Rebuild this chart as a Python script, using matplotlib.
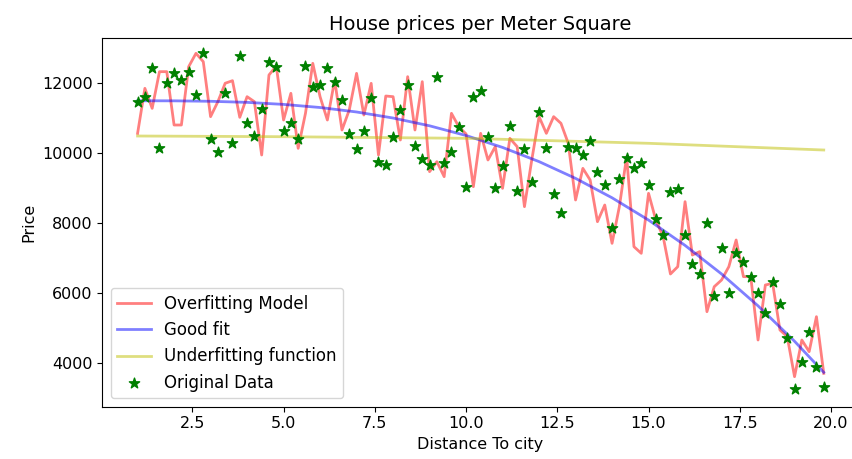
import matplotlib.pyplot as plt

# distance to city (x) and observed prices
distance = [round(1.0 + 0.2 * i, 1) for i in range(95)]
price = [11473, 11616, 12430, 10139, 12000, 12286, 12095, 12333, 11665, 12876,
         10397, 10041, 11714, 10300, 12782, 10872, 10491, 11264, 12618, 12475,
         10634, 10872, 10397, 12495, 11903, 11951, 12430, 12046, 11522, 10540,
         10110, 10643, 11570, 9755, 9661, 10454, 11236, 11951, 10205, 9824,
         9661, 12190, 9709, 10041, 10740, 9040, 11599, 11788, 10454, 8993,
         9632, 10777, 8925, 10110, 9183, 11170, 10139, 8830, 8295, 10168,
         10139, 9947, 10357, 9469, 9088, 7848, 9251, 9853, 9566, 9709,
         9088, 8106, 7656, 8897, 8965, 7656, 6826, 6540, 8009, 5918,
         7276, 6004, 7133, 6892, 6463, 6004, 5432, 6319, 5681, 4698,
         3239, 4029, 4888, 3868, 3296]

# overfitting model, same x as the data
overfit = [10567, 11856, 11283, 12333, 12333, 10806, 10806, 12476, 12858, 12619,
           11045, 11474, 12001, 12075, 11026, 11617, 11474, 9947, 12238, 12495,
           10949, 11713, 10138, 11140, 12572, 11617, 10949, 12094, 10663, 11236,
           12285, 11092, 11999, 9947, 11636, 11617, 10377, 12190, 10663, 12047,
           9470, 9756, 9327, 11140, 10758, 10550, 9040, 10567, 9804, 10186,
           8993, 10424, 10186, 8468, 9804, 11045, 10567, 11045, 10854, 10281,
           8659, 9565, 9231, 8038, 8515, 7418, 8468, 9899, 7322, 7132,
           8850, 8086, 7609, 6540, 6750, 8611, 7084, 7180, 5461, 6177,
           6368, 6750, 7514, 6464, 6464, 4650, 6225, 6273, 4937, 4746,
           3600, 4650, 4316, 5318, 3696]

# good fit curve read at whole distances
good_x = [1, 2, 3, 4, 5, 6, 7, 8, 9, 10, 11, 12, 13, 14, 15, 16, 17, 18, 19, 19.8]
good_y = [11500, 11498, 11485, 11454, 11396, 11307, 11179, 11006, 10783, 10505,
          10164, 9758, 9278, 8722, 8084, 7359, 6541, 5628, 4614, 3725]

# underfitting line
under_x = [1, 5, 10, 15, 19.8]
under_y = [10491, 10471, 10425, 10282, 10090]

fig = plt.figure(figsize=(8.52, 4.59), dpi=100)
ax = fig.add_axes([0.1201, 0.1139, 0.887, 0.8033])

ax.plot(distance, overfit, color='red', alpha=0.5, lw=2, label='Overfitting Model')
ax.plot(good_x, good_y, color='blue', alpha=0.5, lw=2, label='Good fit')
ax.plot(under_x, under_y, color='y', alpha=0.5, lw=2, label='Underfitting function')
ax.scatter(distance, price, marker='*', color='green', s=60, zorder=3, label='Original Data')

ax.set_xlim(0.034, 20.74)
ax.set_ylim(2740, 13297)
ax.set_xticks([2.5, 5.0, 7.5, 10.0, 12.5, 15.0, 17.5, 20.0])
ax.tick_params(labelsize=11.5)
ax.set_title('House prices per Meter Square', fontsize=14)
ax.set_xlabel('Distance To city', fontsize=11.5)
ax.set_ylabel('Price', fontsize=11.5)
ax.legend(loc='lower left', fontsize=12)

fig.savefig('out.png', dpi=100)
